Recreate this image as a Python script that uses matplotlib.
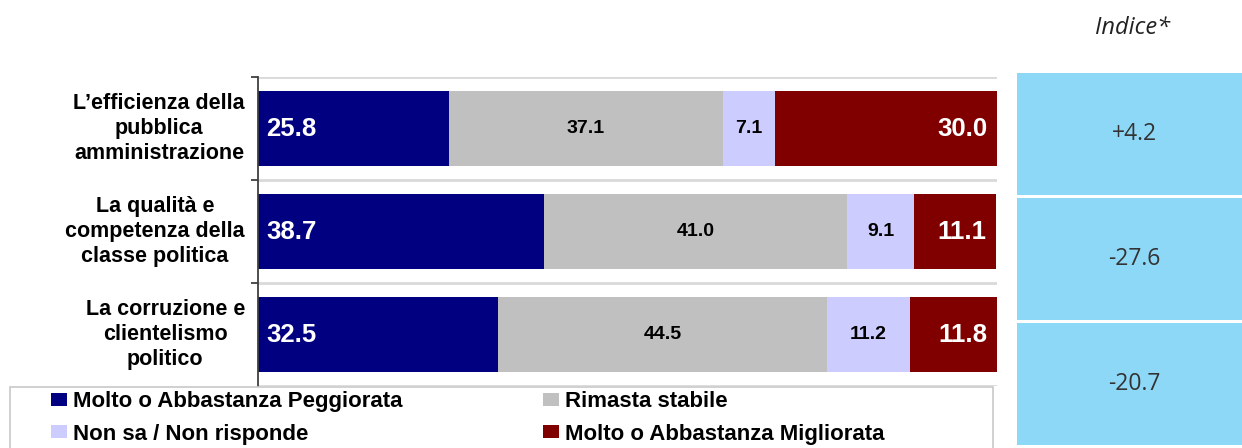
import matplotlib
matplotlib.use("Agg")
import matplotlib.pyplot as plt
from matplotlib.patches import Patch, Rectangle
from matplotlib import transforms

W, H = 1242, 448

categories = ["L\u2019efficienza della\npubblica\namministrazione",
              "La qualità e\ncompetenza della\nclasse politica",
              "La corruzione e\nclientelismo\npolitico"]
peggiorata = [25.8, 38.7, 32.5]
stabile = [37.1, 41.0, 44.5]
non_sa = [7.1, 9.1, 11.2]
migliorata = [30.0, 11.1, 11.8]
indice = ["+4.2", "-27.6", "-20.7"]

series_names = ["Molto o Abbastanza Peggiorata", "Rimasta stabile",
                "Non sa / Non risponde", "Molto o Abbastanza Migliorata"]
series_colors = ["#000080", "#C0C0C0", "#CCCCFF", "#800000"]

plt.rcParams['font.family'] = ['Liberation Sans', 'DejaVu Sans']

fig = plt.figure(figsize=(W / 100, H / 100), dpi=100)
fig.patch.set_facecolor("white")


def fx(px):
    return px / W


def fy(py):
    return 1 - py / H


ax = fig.add_axes([fx(258), fy(386), fx(997 - 258), (386 - 77) / H])
ypos = list(range(len(categories)))
series = [peggiorata, stabile, non_sa, migliorata]
lefts = [0.0] * len(categories)
for vals, col in zip(series, series_colors):
    ax.barh(ypos, vals, left=lefts, height=0.73, color=col, edgecolor="none", zorder=3)
    lefts = [l + v for l, v in zip(lefts, vals)]

ax.set_xlim(0, 100)
ax.set_ylim(len(categories) - 0.5, -0.5)
ax.set_xticks([])
ax.set_yticks([-0.5 + i for i in range(len(categories))])
ax.set_yticklabels([])
ax.tick_params(axis="y", direction="out", length=5, width=1.3, color="#404040")
for b in [-0.5 + i for i in range(len(categories) + 1)]:
    ax.axhline(b, color="#D9D9D9", lw=2, zorder=1)
for s in ["top", "right", "bottom"]:
    ax.spines[s].set_visible(False)
ax.spines["left"].set_color("#404040")
ax.spines["left"].set_linewidth(1.3)
ax.spines["left"].set_zorder(4)

# category labels
trans = transforms.blended_transform_factory(fig.transFigure, ax.transData)
for i, lab in enumerate(categories):
    ax.text(fx(245), i, lab, transform=trans, ha="right", va="center", multialignment="center",
            fontsize=15.5, fontweight="bold", linespacing=1.22, color="black")

# value labels
for i in range(len(categories)):
    ax.annotate("{:.1f}".format(peggiorata[i]), xy=(0, i), xytext=(6, 0), textcoords="offset points",
                ha="left", va="center", color="white", fontsize=18.5, fontweight="bold", zorder=5)
    x0 = peggiorata[i]
    ax.text(x0 + stabile[i] / 2, i, "{:.1f}".format(stabile[i]), ha="center", va="center",
            fontsize=14, fontweight="bold", color="black", zorder=5)
    x0 += stabile[i]
    ax.text(x0 + non_sa[i] / 2, i, "{:.1f}".format(non_sa[i]), ha="center", va="center",
            fontsize=14, fontweight="bold", color="black", zorder=5)
    x0 += non_sa[i]
    ax.annotate("{:.1f}".format(migliorata[i]), xy=(x0 + migliorata[i], i), xytext=(-7, 0),
                textcoords="offset points", ha="right", va="center", color="white",
                fontsize=18.5, fontweight="bold", zorder=5)

# legend
order = [0, 2, 1, 3]
handles = [Patch(facecolor=series_colors[k], edgecolor="none") for k in order]
labels = [series_names[k] for k in order]
fs = 16
fig.legend(handles, labels, loc="upper left", bbox_to_anchor=(fx(51), fy(391)), ncol=2,
           frameon=False, prop={"size": fs, "weight": "bold"}, handlelength=0.72,
           handleheight=0.54, handletextpad=0.28, columnspacing=6.3, labelspacing=0.52,
           borderpad=0, borderaxespad=0)
fig.add_artist(Rectangle((fx(10), -0.02), fx(993 - 10), (448 - 387) / H + 0.02,
                         transform=fig.transFigure, fill=False, edgecolor="#C8C8C8", lw=1.2))

# index panel
ax2 = fig.add_axes([fx(1017), fy(447), fx(W - 1017), (447 - 71) / H])
ax2.barh(ypos, [1] * len(indice), height=0.975, color="#8ED8F7", edgecolor="none")
ax2.set_xlim(0, 1)
ax2.set_ylim(len(indice) - 0.5, -0.5)
ax2.axis("off")
for i, v in enumerate(indice):
    ax2.text(0.52, i, v, ha="center", va="center", fontsize=16.5, color="#333333",
             family=["Open Sans", "DejaVu Sans"])
fig.text(fx(1133), fy(28), "Indice*", ha="center", va="center", fontsize=17, style="italic",
         color="#222222", family=["Open Sans", "DejaVu Sans"])

fig.savefig("out.png", dpi=100)
